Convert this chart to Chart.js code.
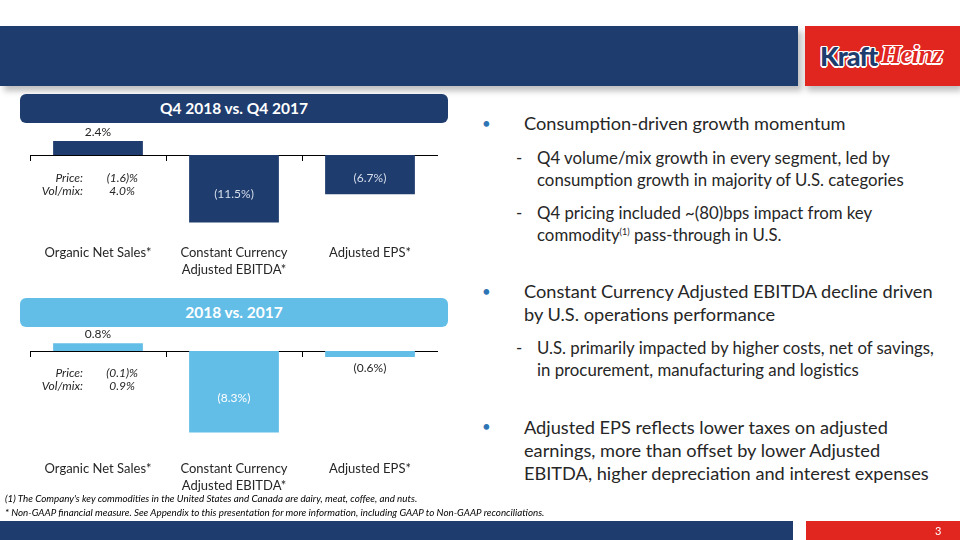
<!DOCTYPE html>
<html>
<head>
<meta charset="utf-8">
<script src="https://cdn.jsdelivr.net/npm/chart.js@4"></script>
<style>
  body { margin: 0; width: 960px; height: 540px; position: relative; overflow: hidden; background: #fff; font-family: Lato, "Open Sans", sans-serif; color: #262626; }
  .abs { position: absolute; }
  .banner { left: 0; top: 26px; width: 798px; height: 60px; background: #1E3C6E; box-shadow: 4px 5px 6px rgba(0,0,0,0.25); }
  .logo { left: 805px; top: 26px; width: 155px; height: 60px; background: #E1251F; box-shadow: 2px 5px 6px rgba(0,0,0,0.25); }
  .logo .k { position: absolute; left: 15px; top: 13px; font: 900 27px Lato, sans-serif; letter-spacing: -1px; color: #1E3C6E;
    text-shadow: -1.5px 0 #fff, 1.5px 0 #fff, 0 -1.5px #fff, 0 1.5px #fff, 1px 1px #fff, -1px -1px #fff, 1px -1px #fff, -1px 1px #fff; }
  .logo .h { position: absolute; left: 76px; top: 14px; font: italic 700 26px "Liberation Serif", serif; letter-spacing: -0.5px; color: #E1251F;
    text-shadow: -1.5px 0 #fff, 1.5px 0 #fff, 0 -1.5px #fff, 0 1.5px #fff, 1px 1px #fff, -1px -1px #fff, 1px -1px #fff, -1px 1px #fff; }
  .pill { left: 20px; width: 428px; height: 29px; border-radius: 6px; color: #fff; font-weight: 700; font-size: 15.5px; text-align: center; line-height: 29px; z-index: 2; }
  .note { font-style: italic; font-size: 12px; line-height: 13px; color: #262626; }
  .note span { display: inline-block; }
  .right { font-size: 18.2px; line-height: 23px; white-space: nowrap; }
  .sub { font-size: 16.8px; line-height: 22px; white-space: nowrap; }
  .dot { color: #2E75B6; font-size: 15px; }
  .foot { left: 5px; font-style: italic; font-size: 9.8px; white-space: nowrap; color: #000; }
  .bottom { left: 0; top: 521px; width: 793px; height: 19px; background: #1E3C6E; }
  .bottomr { left: 806px; top: 521px; width: 154px; height: 19px; background: #E1251F; color: #fff; font-size: 11px; line-height: 19px; }
</style>
</head>
<body>
<div class="abs banner"></div>
<div class="abs logo"><span class="k">Kraft</span><span class="h">Heinz</span></div>

<div class="abs pill" style="top:94px; background:#1E3C6E;">Q4 2018 vs. Q4 2017</div>
<div class="abs pill" style="top:298px; background:#63BEE7;">2018 vs. 2017</div>

<div class="abs" style="left:30px; top:115px; width:408px; height:168px;"><canvas id="q4chart"></canvas></div>
<div class="abs" style="left:30px; top:320px; width:408px; height:179px;"><canvas id="fychart"></canvas></div>

<div class="abs note" style="left:40px; top:171px;">
  <span style="width:43px; text-align:right;">Price:</span><span style="width:55px; text-align:right;">(1.6)%</span><br>
  <span style="width:43px; text-align:right;">Vol/mix:</span><span style="width:52px; text-align:right;">4.0%</span>
</div>
<div class="abs note" style="left:40px; top:366px;">
  <span style="width:43px; text-align:right;">Price:</span><span style="width:55px; text-align:right;">(0.1)%</span><br>
  <span style="width:43px; text-align:right;">Vol/mix:</span><span style="width:52px; text-align:right;">0.9%</span>
</div>

<div class="abs dot" style="left:482px; top:114px;">•</div>
<div class="abs right" style="left:524px; top:112px;">Consumption-driven growth momentum</div>
<div class="abs sub" style="left:516px; top:147px;">-</div>
<div class="abs sub" style="left:537px; top:147px;">Q4 volume/mix growth in every segment, led by<br>consumption growth in majority of U.S. categories</div>
<div class="abs sub" style="left:516px; top:202px;">-</div>
<div class="abs sub" style="left:537px; top:202px;">Q4 pricing included ~(80)bps impact from key<br>commodity<span style="font-size:9px; vertical-align:6px; line-height:0;">(1)</span> pass-through in U.S.</div>

<div class="abs dot" style="left:482px; top:282px;">•</div>
<div class="abs right" style="left:524px; top:280px;">Constant Currency Adjusted EBITDA decline driven<br>by U.S. operations performance</div>
<div class="abs sub" style="left:516px; top:337px;">-</div>
<div class="abs sub" style="left:537px; top:337px;">U.S. primarily impacted by higher costs, net of savings,<br>in procurement, manufacturing and logistics</div>

<div class="abs dot" style="left:482px; top:417px;">•</div>
<div class="abs right" style="left:524px; top:416px;">Adjusted EPS reflects lower taxes on adjusted<br>earnings, more than offset by lower Adjusted<br>EBITDA, higher depreciation and interest expenses</div>

<div class="abs foot" style="top:492px;">(1) The Company's key commodities in the United States and Canada are dairy, meat, coffee, and nuts.</div>
<div class="abs foot" style="top:506px;">* Non-GAAP financial measure. See Appendix to this presentation for more information, including GAAP to Non-GAAP reconciliations.</div>

<div class="abs bottom"></div>
<div class="abs bottomr"><span style="position:absolute; left:129px;">3</span></div>

<script>
const categories = [
  'Organic Net Sales*',
  ['Constant Currency', 'Adjusted EBITDA*'],
  'Adjusted EPS*'
];
const q4Values = [2.4, -11.5, -6.7];
const fyValues = [0.8, -8.3, -0.6];

const valueLabels = {
  id: 'valueLabels',
  afterDatasetsDraw(chart, args, opts) {
    const ctx = chart.ctx;
    const meta = chart.getDatasetMeta(0);
    const values = chart.data.datasets[0].data;
    const zero = chart.scales.y.getPixelForValue(0);
    ctx.save();
    ctx.font = '12px Lato';
    ctx.textAlign = 'center';
    ctx.textBaseline = 'middle';
    meta.data.forEach((bar, i) => {
      const v = values[i];
      const text = v < 0 ? '(' + Math.abs(v).toFixed(1) + '%)' : v.toFixed(1) + '%';
      const h = Math.abs(bar.y - zero);
      let y, color = '#262626';
      if (v >= 0) {
        y = bar.y - 9;
      } else if (h > 25) {
        y = zero + h * 0.58;
        color = opts.inside;
      } else {
        y = bar.y + 11;
      }
      ctx.fillStyle = color;
      ctx.fillText(text, bar.x, y);
    });
    ctx.restore();
  }
};

function makeChart(id, values, color, insideColor, yMin, yMax) {
  return new Chart(document.getElementById(id), {
    type: 'bar',
    data: {
      labels: categories,
      datasets: [{
        data: values,
        backgroundColor: color,
        barPercentage: 0.66,
        categoryPercentage: 1.0
      }]
    },
    options: {
      responsive: true,
      maintainAspectRatio: false,
      animation: false,
      layout: { padding: { top: 12, left: 0, right: 0, bottom: 0 } },
      plugins: {
        legend: { display: false },
        tooltip: { enabled: false },
        valueLabels: { inside: insideColor }
      },
      scales: {
        y: { display: false, min: yMin, max: yMax },
        x: {
          position: 'bottom',
          grid: { display: false },
          border: { display: false },
          ticks: { color: '#262626', font: { family: 'Lato', size: 13, lineHeight: 1.3 }, padding: 5, maxRotation: 0, autoSkip: false }
        },
        zeroAxis: {
          axis: 'x',
          type: 'category',
          labels: categories,
          position: { y: 0 },
          offset: true,
          grid: { display: true, offset: true, drawOnChartArea: false, drawTicks: true, tickLength: 5, color: '#000', lineWidth: 1 },
          border: { display: true, color: '#000', width: 1 },
          ticks: { display: false }
        }
      }
    },
    plugins: [valueLabels]
  });
}

makeChart('q4chart', q4Values, '#1E3C6E', '#D6DEEB', -13.0, 4.8);
makeChart('fychart', fyValues, '#63BEE7', '#FFFFFF', -9.8, 1.95);
</script>
</body>
</html>
